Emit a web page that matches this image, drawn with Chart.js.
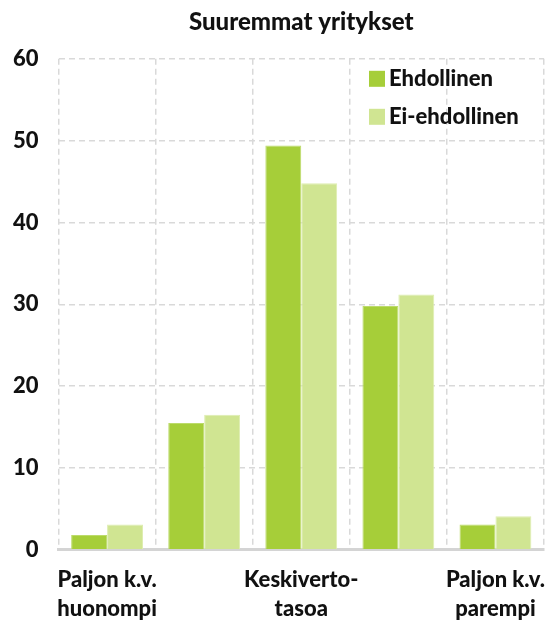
<!DOCTYPE html>
<html>
<head>
<meta charset="utf-8">
<script src="https://cdn.jsdelivr.net/npm/chart.js@4"></script>
<style>
  html, body { margin: 0; padding: 0; background: #fff; }
  #wrap { width: 555px; height: 622px; }
</style>
</head>
<body>
<div id="wrap"><canvas id="chart"></canvas></div>
<script>
const categories = [["Paljon k.v.", "huonompi"], "", ["Keskiverto-", "tasoa"], "", ["Paljon k.v.", "parempi"]];
const ehdollinen = [1.8, 15.5, 49.4, 29.8, 3.1];
const eiEhdollinen = [3.1, 16.5, 44.8, 31.2, 4.1];
const yTicks = [0, 10, 20, 30, 40, 50, 60];

const font = "Lato";
const gridColor = "#d9d9d9";

// legend drawn inside the plot, top right, stacked
const insideLegend = {
    id: "insideLegend",
    afterDraw(chart) {
        const {ctx, chartArea} = chart;
        ctx.save();
        ctx.font = `900 22px ${font}`;
        ctx.textBaseline = "middle";
        ctx.textAlign = "left";
        chart.data.datasets.forEach((ds, i) => {
            const x = chartArea.right - 175;
            const y = chartArea.top + 20 + i * 38;
            ctx.fillStyle = ds.backgroundColor;
            ctx.fillRect(x, y - 8, 16, 16);
            ctx.fillStyle = "#111";
            ctx.fillText(ds.label, x + 20, y);
        });
        ctx.restore();
    }
};

const ctx = document.getElementById("chart").getContext("2d");
const chart = new Chart(ctx, {
    type: "bar",
    data: {
        labels: categories,
        datasets: [
            { label: "Ehdollinen", data: ehdollinen, backgroundColor: "#a6ce39", borderColor: "#bcdb6a", borderWidth: 1 },
            { label: "Ei-ehdollinen", data: eiEhdollinen, backgroundColor: "#d0e592", borderColor: "#deedb0", borderWidth: 1 }
        ]
    },
    options: {
        responsive: true,
        maintainAspectRatio: false,
        animation: false,
        layout: { padding: { left: -7, right: 11, top: 0, bottom: -17 } },
        datasets: { bar: { categoryPercentage: 0.74, barPercentage: 1 } },
        plugins: {
            title: {
                display: true,
                text: "Suuremmat yritykset",
                fullSize: false,
                color: "#111",
                font: { family: font, size: 24, weight: "900" },
                padding: { top: 8, bottom: 22 }
            },
            legend: { display: false },
            tooltip: { enabled: false }
        },
        scales: {
            x: {
                grid: { color: gridColor, lineWidth: 1.5, drawTicks: false, offset: true },
                border: { display: true, color: "#d4d4d4", width: 3, dash: [6, 4] },
                afterFit: scale => { scale.paddingLeft = 0; scale.paddingRight = 0; },
                ticks: {
                    autoSkip: false,
                    maxRotation: 0,
                    color: "#111",
                    padding: 16,
                    font: { family: font, size: 22, weight: "900", lineHeight: 1.3 }
                }
            },
            y: {
                min: 0,
                max: 60,
                afterBuildTicks: axis => { axis.ticks = yTicks.map(v => ({ value: v })); },
                grid: { color: gridColor, lineWidth: 1.5, drawTicks: false },
                border: { display: false, dash: [6, 4] },
                ticks: {
                    color: "#111",
                    padding: 20,
                    font: { family: font, size: 22, weight: "900" }
                }
            }
        }
    },
    plugins: [insideLegend]
});
</script>
</body>
</html>
